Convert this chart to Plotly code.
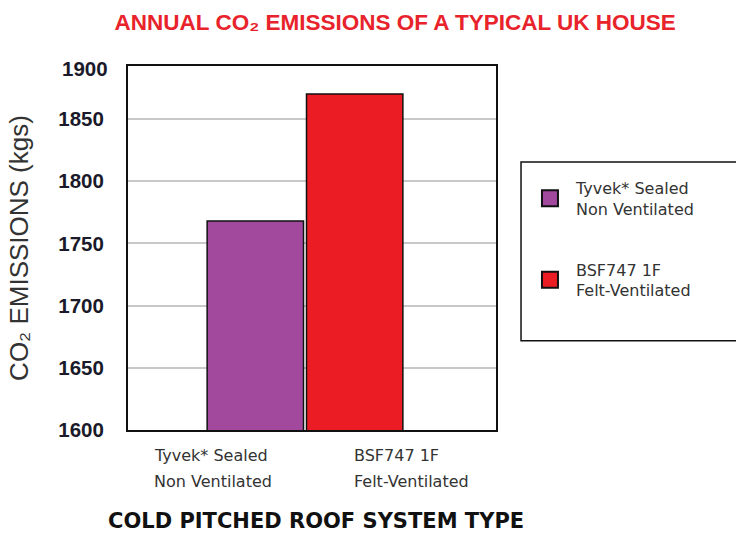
import plotly.graph_objects as go

# ---- data ----
category = ["Cold pitched roof"]
series_names = ["Tyvek* Sealed<br>Non Ventilated", "BSF747 1F<br>Felt-Ventilated"]
series_values = [1768, 1870]
series_colors = ["#A2499E", "#EC1C24"]
label_lines = [["Tyvek* Sealed", "Non Ventilated"], ["BSF747 1F", "Felt-Ventilated"]]
y_ticks = [1600, 1650, 1700, 1750, 1800, 1850]
y_top_label = "1900"

fig = go.Figure()
for i, (name, val, col) in enumerate(zip(series_names, series_values, series_colors)):
    fig.add_trace(go.Bar(
        x=category, y=[val], name=name, showlegend=False,
        marker=dict(color=col, line=dict(color="#111111", width=1.5)),
    ))
    # legend entry with a large square swatch
    fig.add_trace(go.Scatter(
        x=[None], y=[None], mode="markers", name=name, legendgroup=f"g{i}",
        marker=dict(symbol="square", size=22, color=col,
                    line=dict(color="#111111", width=2)),
    ))

fig.update_layout(
    width=736, height=533,
    margin=dict(l=128, r=240, t=66, b=103),
    paper_bgcolor="white", plot_bgcolor="white",
    barmode="group", bargap=0.46, bargroupgap=0.03,
    title=dict(text="ANNUAL CO₂ EMISSIONS OF A TYPICAL UK HOUSE",
               x=0.537, xanchor="center", y=0.958, yanchor="middle",
               font=dict(family="Liberation Sans, Arial, sans-serif",
                         size=22.5, color="#E8232B", weight="bold")),
    legend=dict(x=1.076, xanchor="left", y=0.712, yanchor="top",
                borderwidth=0, bgcolor="rgba(0,0,0,0)",
                font=dict(family="DejaVu Sans, sans-serif", size=16, color="#333333"),
                tracegroupgap=37, itemsizing="trace", itemwidth=42),
    showlegend=True,
    shapes=[dict(type="rect", xref="paper", yref="paper",
                 x0=1.068, x1=1.70, y0=0.245, y1=0.736,
                 line=dict(color="#111111", width=1.5), fillcolor="rgba(0,0,0,0)")],
)

fig.update_xaxes(showticklabels=False, showline=True, linecolor="#111111",
                 linewidth=2, mirror=True, ticks="", range=[-0.481, 0.519])
fig.update_yaxes(range=[1600, 1892.5], tickvals=y_ticks,
                 showline=True, linecolor="#111111", linewidth=2, mirror=True,
                 showgrid=True, gridcolor="#C8C8C8", gridwidth=2,
                 ticks="", ticklabelstandoff=18,
                 tickfont=dict(family="Liberation Sans, Arial, sans-serif",
                               size=20.5, color="#1a1a2a", weight="bold"),
                 title=dict(text="CO₂ EMISSIONS (kgs)", standoff=22,
                            font=dict(family="Liberation Sans, Arial, sans-serif",
                                      size=26, color="#333333")))

# top tick label sits at the top frame edge
fig.add_annotation(text=y_top_label, xref="paper", yref="paper", x=0, y=1,
                   xanchor="right", yanchor="middle", xshift=-18, yshift=-2,
                   showarrow=False,
                   font=dict(family="Liberation Sans, Arial, sans-serif",
                             size=20.5, color="#1a1a2a", weight="bold"))

# category labels below the bars
label_x = [0.065, 0.61]
for lx, lines in zip(label_x, label_lines):
    for i, line in enumerate(lines):
        fig.add_annotation(text=line, xref="paper", yref="paper", x=lx, y=0,
                           xanchor="left", yanchor="middle", yshift=-25 - 26 * i,
                           showarrow=False,
                           font=dict(family="DejaVu Sans, sans-serif", size=16,
                                     color="#333333"))

fig.add_annotation(text="<b>COLD PITCHED ROOF SYSTEM TYPE</b>", xref="paper", yref="paper",
                   x=0.51, y=0, xanchor="center", yanchor="middle", yshift=-91,
                   showarrow=False,
                   font=dict(family="DejaVu Sans, sans-serif",
                             size=21, color="#111111"))

fig.write_html("out.html")
